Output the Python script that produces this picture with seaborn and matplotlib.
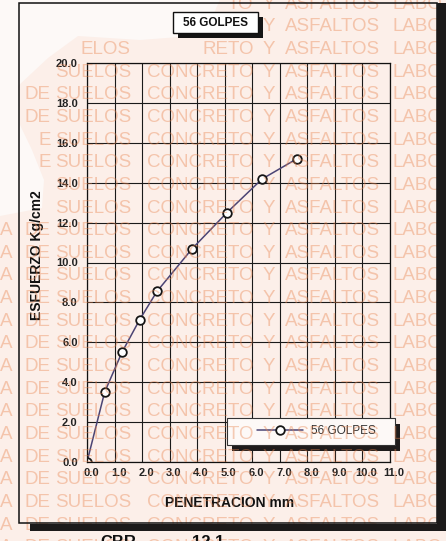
import numpy as np
import pandas as pd
import seaborn as sns
import matplotlib
matplotlib.use("Agg")
import matplotlib.pyplot as plt
from matplotlib.patches import Rectangle, Polygon
from matplotlib.transforms import ScaledTranslation

# ---- data ----
penetracion = [0.0, 0.64, 1.27, 1.91, 2.54, 3.81, 5.08, 6.35, 7.62]
esfuerzo = [0.0, 3.5, 5.5, 7.13, 8.55, 10.68, 12.5, 14.18, 15.2]
serie = "56 GOLPES"
x_ticks = [0, 1, 2, 3, 4, 5, 6, 7, 8, 9, 10, 11]
x_labels = ["0.0", "1.0", "2.0", "3.0", "4.0", "5.0", "6.0", "7.0", "8.0", "9.0", "10.0", "11.0"]
y_ticks = [0, 2, 4, 6, 8, 10, 12, 14, 16, 18, 20]
y_labels = ["0.0", "2.0", "4.0", "6.0", "8.0", "10.0", "12.0", "14.0", "16.0", "18.0", "20.0"]
titulo = "56 GOLPES"
x_title = "PENETRACION mm"
y_title = "ESFUERZO Kg/cm2"
pie_1 = "CBR"
pie_2 = "12.1"
marca_palabras = ["A", "DE", "SUELOS", "CONCRETO", "Y", "ASFALTOS", "LABO"]

df = pd.DataFrame({"penetracion": penetracion, "esfuerzo": esfuerzo, "serie": serie})

sns.set_theme(style="white")
plt.rcParams["font.family"] = ["Liberation Sans", "DejaVu Sans"]

W, H = 446, 541
fig = plt.figure(figsize=(W / 100, H / 100), dpi=100)
paper = "#fdf9f7"
fig.patch.set_facecolor(paper)

def fx(x):
    return x / W

def fy(y):
    return 1 - y / H

def frect(x0, y0, x1, y1, **kw):
    return Rectangle((fx(x0), fy(y1)), (x1 - x0) / W, (y1 - y0) / H,
                     transform=fig.transFigure, **kw)

# tinted paper region
poly_px = [(0, 560), (460, 560), (460, -20), (228, -20), (205, 35), (140, 40), (78, 36),
           (48, 58), (18, 86), (20, 125), (32, 150), (44, 180), (42, 208), (0, 216)]
tint = Polygon([(fx(a), fy(b)) for a, b in poly_px], closed=True,
               transform=fig.transFigure, facecolor="#fcefe9", edgecolor="none", zorder=-5)
fig.patches.append(tint)

# ---- axes ----
ax = fig.add_axes([fx(87), fy(462), 303 / W, 399 / H])
ax.set_facecolor("none")
sns.lineplot(data=df, x="penetracion", y="esfuerzo", hue="serie", palette=["#4b4474"],
             marker="o", markersize=6.2, markerfacecolor="white", markeredgecolor="#151515",
             markeredgewidth=1.3, linewidth=1.1, estimator=None, sort=False, ax=ax, legend=False)
ax.set_xlim(0, 11)
ax.set_ylim(0, 20)
ax.set_xticks(x_ticks)
ax.set_xticklabels(x_labels)
ax.set_yticks(y_ticks)
ax.set_yticklabels(y_labels)
ax.grid(True, color="#1a1a1a", linewidth=0.8)
ax.set_axisbelow(True)
for s in ax.spines.values():
    s.set_color("#111111")
    s.set_linewidth(0.9)
ax.tick_params(axis="both", direction="out", colors="#1a1a1a", labelsize=8, width=0.8)
ax.tick_params(axis="x", length=4, pad=0.6)
ax.tick_params(axis="y", length=4.5, pad=2.2)
for lbl in ax.get_xticklabels() + ax.get_yticklabels():
    lbl.set_fontweight("bold")
    lbl.set_color("#222222")
off = ScaledTranslation(4 / 100, 0, fig.dpi_scale_trans)
for lbl in ax.get_xticklabels():
    lbl.set_transform(lbl.get_transform() + off)

ax.set_xlabel(x_title, fontsize=10, fontweight="bold", color="#111111")
ax.set_ylabel(y_title, fontsize=10, fontweight="bold", color="#111111")
ax.xaxis.set_label_coords((230 - 87) / 303, (462 - 503) / 399)
ax.xaxis.label.set_verticalalignment("center")
ax.yaxis.set_label_coords((37 - 87) / 303, (462 - 255) / 399)
ax.yaxis.label.set_verticalalignment("center")

# ---- legend (box with shadow) ----
fig.patches.append(frect(232, 424, 400, 451, facecolor="#1f1c1c", edgecolor="none", zorder=1))
fig.patches.append(frect(227, 418, 395, 445, facecolor=paper, edgecolor="#333333",
                         linewidth=0.8, zorder=1.2))
handle = ax.get_lines()[0]
leg = fig.legend([handle], [serie], loc="center left",
                 bbox_to_anchor=(fx(257), fy(431.5)), bbox_transform=fig.transFigure,
                 frameon=False, fontsize=8.5, handlelength=3.9, handletextpad=0.7,
                 borderpad=0, borderaxespad=0, labelcolor="#333333")
leg.set_zorder(1.5)

# ---- outer frame ----
fig.patches.append(frect(19, 3, 437, 523, facecolor="none", edgecolor="#111111",
                         linewidth=1.1, zorder=3.5))
fig.patches.append(frect(437, 3, 460, 531, facecolor="#1c1a1a", edgecolor="none", zorder=3.6))
fig.patches.append(frect(30, 524, 460, 531, facecolor="#1c1a1a", edgecolor="none", zorder=3.6))

# ---- watermark (scanned-sheet overprint) ----
word_x = [0, 25, 55, 147, 263, 285, 393]
# rows near the top-left corner are only partly printed
row_rules = {
    0: ([("TO", 228)], 4),
    1: ([], 4),
    2: ([("ELOS", 81), ("RETO", 202)], 4),
    3: ([], 2),
    4: ([], 1),
    5: ([], 1),
    6: ([("E", 38.5)], 2),
    7: ([("E", 38.5)], 2),
    8: ([], 2),
    9: ([], 2),
}
wm_kw = dict(fontsize=13.5, color="#e8844f", alpha=0.40, ha="left", va="baseline", zorder=3)
for n in range(25):
    yc = 2 + 22.65 * n
    partial, first = row_rules.get(n, ([], 0))
    for w, x0 in partial:
        fig.text(fx(x0), fy(yc + 6.7), w, **wm_kw)
    for w, x0 in list(zip(marca_palabras, word_x))[first:]:
        fig.text(fx(x0), fy(yc + 6.7), w, **wm_kw)

# ---- title box ----
fig.patches.append(frect(178, 17, 263, 38, facecolor="#151515", edgecolor="none", zorder=4))
fig.patches.append(frect(173, 12, 258, 33, facecolor="white", edgecolor="#111111",
                         linewidth=1.0, zorder=4.5))
fig.text(fx(215.5), fy(22.5), titulo, fontsize=8.5, fontweight="bold", color="#111111",
         ha="center", va="center", zorder=5)

# ---- footer (cut off) ----
fig.text(fx(100), fy(535), pie_1, fontsize=12, fontweight="bold", color="#111111",
         ha="left", va="top", zorder=5)
fig.text(fx(192), fy(535), pie_2, fontsize=12, fontweight="bold", color="#111111",
         ha="left", va="top", zorder=5)

fig.savefig("out.png", dpi=100, facecolor=fig.get_facecolor())
